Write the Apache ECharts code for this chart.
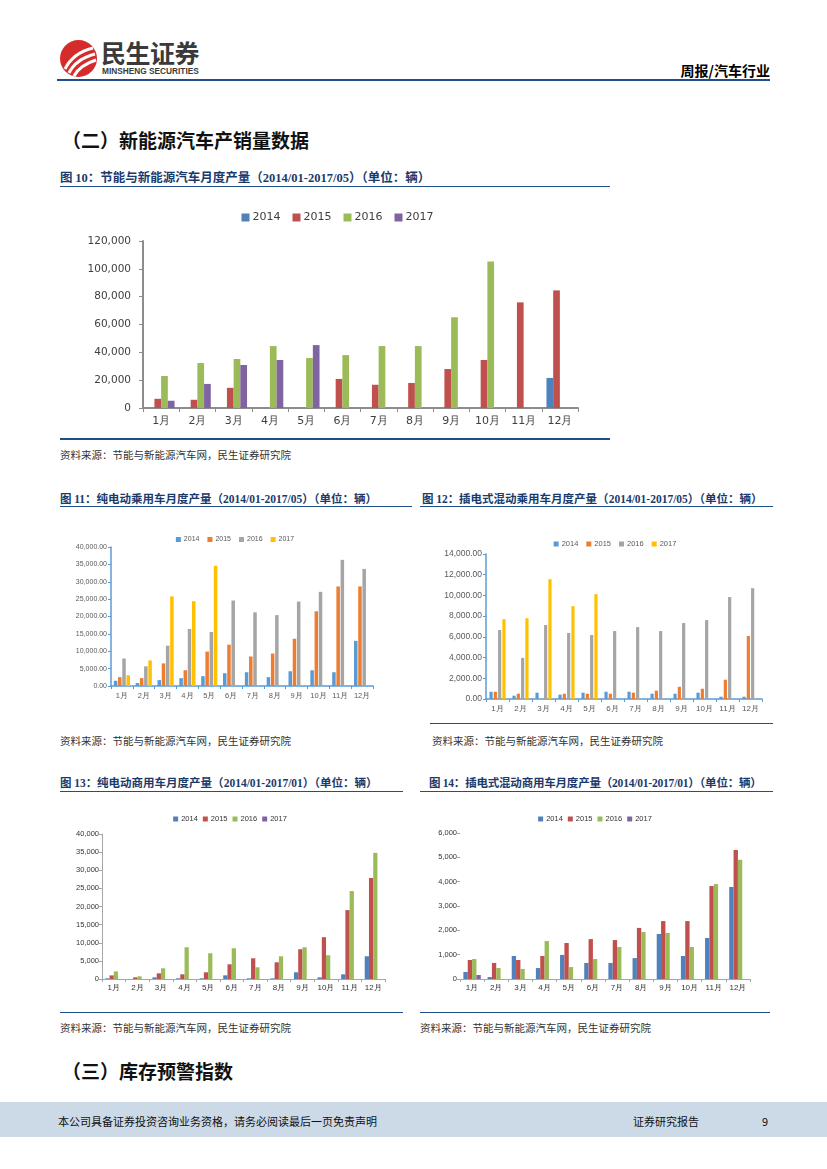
<!DOCTYPE html>
<html lang="zh-CN">
<head>
<meta charset="utf-8">
<title>周报/汽车行业</title>
<script src="https://cdn.jsdelivr.net/npm/echarts@6.0.0/dist/echarts.min.js"></script>
<style>
html,body{margin:0;padding:0;background:#fff;}
#page{position:relative;width:827px;height:1169px;overflow:hidden;font-family:"Noto Sans CJK SC","Noto Sans",sans-serif;color:#000;}
.hline{position:absolute;background:#1F4E8C;}
.ftitle{position:absolute;font-size:11.5px;font-weight:bold;color:#1B3A6B;white-space:nowrap;line-height:14px;}
.lat{font-family:"Liberation Serif",serif;}
.src{position:absolute;font-size:10.5px;color:#333;white-space:nowrap;line-height:13px;}
.sec{position:absolute;font-size:19px;font-weight:bold;white-space:nowrap;line-height:22px;color:#111;}
.chart{position:absolute;}
</style>
</head>
<body>
<div id="page">
  <!-- header -->
  <svg style="position:absolute;left:59px;top:39px" width="40" height="40" viewBox="0 0 40 40">
    <circle cx="19.5" cy="19.5" r="18.5" fill="#D62B2B"/>
    <path d="M6 30 Q 14 14 34 9" stroke="#fff" stroke-width="3" fill="none"/>
    <path d="M10 34 Q 17 20 36 15" stroke="#fff" stroke-width="3" fill="none"/>
    <path d="M15 37 Q 21 26 37 21" stroke="#fff" stroke-width="3" fill="none"/>
  </svg>
  <div style="position:absolute;left:101px;top:38px;font-size:25px;font-weight:bold;color:#3a3a3a;line-height:28px;letter-spacing:-0.5px;">民生证券</div>
  <div style="position:absolute;left:102px;top:66px;font-size:8.3px;font-weight:bold;color:#3a3a3a;line-height:10px;font-family:'Liberation Sans',sans-serif;">MINSHENG SECURITIES</div>
  <div style="position:absolute;right:57px;top:62px;font-size:14px;font-weight:bold;line-height:16px;">周报/汽车行业</div>
  <div class="hline" style="left:57px;top:79px;width:713px;height:2px;"></div>

  <div class="sec" style="left:62px;top:129px;">（二）新能源汽车产销量数据</div>

  <!-- fig 10 -->
  <div class="ftitle" style="left:60px;top:170px;font-size:12.5px;">图 <span class="lat">10</span>：节能与新能源汽车月度产量（<span class="lat">2014/01-2017/05</span>）（单位：辆）</div>
  <div class="hline" style="left:60px;top:186px;width:550px;height:1px;"></div>
  <div id="c10" class="chart" style="left:60px;top:195px;width:555px;height:240px;"></div>
  <div class="hline" style="left:60px;top:438px;width:550px;height:2px;"></div>
  <div class="src" style="left:60px;top:448px;">资料来源：节能与新能源汽车网，民生证券研究院</div>

  <!-- fig 11 / 12 -->
  <div class="ftitle" style="left:60px;top:491px;">图 <span class="lat">11</span>：纯电动乘用车月度产量（<span class="lat">2014/01-2017/05</span>）（单位：辆）</div>
  <div class="hline" style="left:60px;top:506px;width:352px;height:1px;"></div>
  <div class="ftitle" style="left:422px;top:491px;">图 <span class="lat">12</span>：插电式混动乘用车月度产量（<span class="lat">2014/01-2017/05</span>）（单位：辆）</div>
  <div class="hline" style="left:420px;top:506px;width:353px;height:1px;"></div>
  <div id="c11" class="chart" style="left:60px;top:515px;width:350px;height:200px;"></div>
  <div id="c12" class="chart" style="left:420px;top:515px;width:390px;height:200px;"></div>
  <div class="hline" style="left:430px;top:723px;width:343px;height:1px;"></div>
  <div class="src" style="left:60px;top:734px;">资料来源：节能与新能源汽车网，民生证券研究院</div>
  <div class="src" style="left:432px;top:734px;">资料来源：节能与新能源汽车网，民生证券研究院</div>

  <!-- fig 13 / 14 -->
  <div class="ftitle" style="left:60px;top:775px;">图 <span class="lat">13</span>：纯电动商用车月度产量（<span class="lat">2014/01-2017/01</span>）（单位：辆）</div>
  <div class="hline" style="left:60px;top:791px;width:343px;height:1px;"></div>
  <div class="ftitle" style="left:429px;top:775px;letter-spacing:-0.2px;">图 <span class="lat">14</span>：插电式混动商用车月度产量（<span class="lat">2014/01-2017/01</span>）（单位：辆）</div>
  <div class="hline" style="left:420px;top:791px;width:353px;height:1px;"></div>
  <div id="c13" class="chart" style="left:60px;top:800px;width:340px;height:205px;"></div>
  <div id="c14" class="chart" style="left:420px;top:800px;width:350px;height:205px;"></div>
  <div class="hline" style="left:60px;top:1012px;width:343px;height:1px;"></div>
  <div class="hline" style="left:420px;top:1012px;width:350px;height:1px;"></div>
  <div class="src" style="left:60px;top:1021px;">资料来源：节能与新能源汽车网，民生证券研究院</div>
  <div class="src" style="left:420px;top:1021px;">资料来源：节能与新能源汽车网，民生证券研究院</div>

  <div class="sec" style="left:62px;top:1060px;">（三）库存预警指数</div>

  <!-- footer -->
  <div style="position:absolute;left:0;top:1102px;width:827px;height:35px;background:#CCDAE8;"></div>
  <div style="position:absolute;left:58px;top:1114px;font-size:11px;line-height:14px;color:#111;">本公司具备证券投资咨询业务资格，请务必阅读最后一页免责声明</div>
  <div style="position:absolute;left:633px;top:1114px;font-size:11px;line-height:14px;color:#111;">证券研究报告</div>
  <div style="position:absolute;left:762px;top:1114px;font-size:11px;line-height:14px;color:#111;">9</div>
</div>

<script>
// ---------- data ----------
const months = ['1月','2月','3月','4月','5月','6月','7月','8月','9月','10月','11月','12月'];
const years = ['2014','2015','2016','2017'];

// 图10 节能与新能源汽车月度产量
const f10_2014 = [null,null,null,null,null,null,null,null,null,null,null,21600];
const f10_2015 = [6600,5900,14500,null,null,20900,16700,18000,28000,34500,75900,84500];
const f10_2016 = [23000,32300,35200,44500,35900,38000,44500,44500,65200,105200,null,null];
const f10_2017 = [5200,17300,30900,34500,45200,null,null,null,null,null,null,null];

// 图11 纯电动乘用车月度产量
const f11_2014 = [1500,850,1700,2260,2830,3680,3960,2550,4240,4530,3960,13000];
const f11_2015 = [2550,2260,6500,4530,9900,11900,8490,9340,13600,21500,28650,28650];
const f11_2016 = [7900,5660,11600,16400,15560,24600,21200,20400,24300,27100,36300,33700];
const f11_2017 = [3100,7350,25800,24400,34600,null,null,null,null,null,null,null];

// 图12 插电式混动乘用车月度产量
const f12_2014 = [700,320,610,420,610,700,700,510,510,610,220,220];
const f12_2015 = [700,510,null,510,510,510,610,800,1180,990,1860,6080];
const f12_2016 = [6660,3970,7140,6370,6180,6560,6940,6560,7330,7620,9840,10700];
const f12_2017 = [7700,7800,11570,8960,10120,null,null,null,null,null,null,null];

// 图13 纯电动商用车月度产量
const f13_2014 = [190,null,460,190,190,1010,190,190,1850,460,1290,6270];
const f13_2015 = [1000,460,1570,1290,1850,4060,5720,4610,8210,11530,19000,27860];
const f13_2016 = [2100,740,2950,8760,7100,8490,3230,6270,8760,6550,24260,34800];
const f13_2017 = [null,null,null,null,null,null,null,null,null,null,null,null];

// 图14 插电式混动商用车月度产量
const f14_2014 = [290,80,945,450,990,660,660,860,1850,945,1685,3780];
const f14_2015 = [780,660,780,945,1480,1640,1600,2100,2380,2380,3820,5300];
const f14_2016 = [820,450,410,1560,490,820,1315,1930,1890,1315,3900,4900];
const f14_2017 = [165,null,null,null,null,null,null,null,null,null,null,null];

// ---------- styles ----------
const office2007 = ['#4F81BD','#C0504D','#9BBB59','#8064A2'];
const office2013 = ['#5B9BD5','#ED7D31','#A5A5A5','#FFC000'];

const fmtInt = v => Number(v).toLocaleString('en-US');
const fmt2 = v => Number(v).toLocaleString('en-US',{minimumFractionDigits:2,maximumFractionDigits:2});

function build(id, o){
  const chart = echarts.init(document.getElementById(id), null, {renderer:'canvas'});
  const series = years.map((n,i)=>({
    name:n, type:'bar', data:o.data[i],
    barGap:o.barGap, barCategoryGap:o.barCategoryGap,
    itemStyle:{color:o.colors[i]},
    emphasis:{disabled:true}
  }));
  chart.setOption({
    animation:false,
    textStyle:{fontFamily:o.font},
    legend:{
      data:years, left:'center', top:o.legendTop,
      itemWidth:o.legendItem, itemHeight:o.legendItem, itemGap:o.legendGap,
      icon:'rect', selectedMode:false,
      textStyle:{fontSize:o.legendFont, color:o.labelColor, fontFamily:o.font, padding:[0,0,0,-2]}
    },
    grid:{left:o.grid[0], top:o.grid[1], width:o.grid[2], height:o.grid[3], containLabel:false, outerBoundsMode:'none'},
    xAxis:{
      type:'category', data:months,
      axisLine:{show:true, lineStyle:{color:o.axisColor, width:o.axisWidth}},
      axisTick:{show:true, alignWithLabel:false, interval:0, length:o.tickLen, lineStyle:{color:o.axisColor, width:1}},
      axisLabel:{interval:0, fontSize:o.xFont, color:o.labelColor, margin:o.xMargin, fontFamily:o.font},
      splitLine:{show:false}
    },
    yAxis:{
      type:'value', min:0, max:o.max, interval:o.interval,
      axisLine:{show:o.yLine, lineStyle:{color:o.axisColor, width:o.axisWidth}},
      axisTick:{show:true, length:o.tickLen, lineStyle:{color:o.axisColor, width:1}},
      axisLabel:{formatter:o.fmt, fontSize:o.yFont, color:o.labelColor, margin:o.yMargin, fontFamily:o.font},
      splitLine:{show:false}
    },
    series
  });
}

build('c10', {
  data:[f10_2014,f10_2015,f10_2016,f10_2017], colors:office2007,
  font:'DejaVu Sans', labelColor:'#404040', axisColor:'#8C8C8C', axisWidth:2, tickLen:4,
  grid:[83,46,435,167], max:120000, interval:20000, fmt:fmtInt,
  yFont:10.5, xFont:11, yMargin:12, xMargin:8, yLine:true,
  legendTop:12, legendItem:8, legendGap:12, legendFont:11,
  barGap:'0%', barCategoryGap:'26%'
});

build('c11', {
  data:[f11_2014,f11_2015,f11_2016,f11_2017], colors:office2013,
  font:'Liberation Sans', labelColor:'#595959', axisColor:'#5B9BD5', axisWidth:1.5, tickLen:3,
  grid:[51,32,262,139], max:40000, interval:5000, fmt:fmt2,
  yFont:7, xFont:7.5, yMargin:4, xMargin:6, yLine:true,
  legendTop:16, legendItem:5, legendGap:8, legendFont:7,
  barGap:'20%', barCategoryGap:'26%'
});

build('c12', {
  data:[f12_2014,f12_2015,f12_2016,f12_2017], colors:office2013,
  font:'Liberation Sans', labelColor:'#595959', axisColor:'#5B9BD5', axisWidth:1.5, tickLen:3,
  grid:[66,39,276,145], max:14000, interval:2000, fmt:fmt2,
  yFont:8.5, xFont:8, yMargin:4, xMargin:6, yLine:true,
  legendTop:20, legendItem:5, legendGap:8, legendFont:7.5,
  barGap:'35%', barCategoryGap:'30%'
});

build('c13', {
  data:[f13_2014,f13_2015,f13_2016,f13_2017], colors:office2007,
  font:'Liberation Sans', labelColor:'#333333', axisColor:'#A6A6A6', axisWidth:1, tickLen:3,
  grid:[42,34,283,145], max:40000, interval:5000, fmt:fmtInt,
  yFont:7.5, xFont:8, yMargin:3, xMargin:5, yLine:true,
  legendTop:10, legendItem:5, legendGap:5, legendFont:7.5,
  barGap:'0%', barCategoryGap:'28%'
});

build('c14', {
  data:[f14_2014,f14_2015,f14_2016,f14_2017], colors:office2007,
  font:'Liberation Sans', labelColor:'#333333', axisColor:'#A6A6A6', axisWidth:1, tickLen:3,
  grid:[40,33,290,146], max:6000, interval:1000, fmt:fmtInt,
  yFont:7.5, xFont:8, yMargin:3, xMargin:5, yLine:false,
  legendTop:10, legendItem:5, legendGap:5, legendFont:7.5,
  barGap:'0%', barCategoryGap:'28%'
});
</script>
</body>
</html>
